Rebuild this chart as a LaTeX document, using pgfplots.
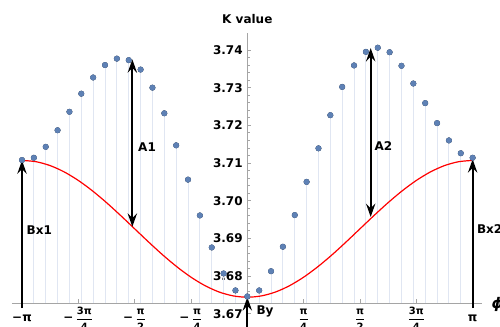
\documentclass[border=0pt]{standalone}
\usepackage{fontspec}
\setmainfont{DejaVu Sans}
\usepackage{amsmath}
\usepackage{pgfplots}
\usepackage{pgfplotstable}
\pgfplotsset{compat=1.18}
\usetikzlibrary{arrows.meta}
\definecolor{ptcol}{RGB}{94,129,181}
\definecolor{stemcol}{RGB}{224,230,242}
\definecolor{axcol}{RGB}{165,165,165}
\newcommand{\fr}[2]{$\dfrac{\text{\fontsize{7.5}{8}\selectfont\bfseries #1}}{\text{\fontsize{7.5}{8}\selectfont\bfseries #2}}$}

\pgfplotstableread{
x y
-3.1416 3.7108
-2.9762 3.7114
-2.8109 3.7143
-2.6455 3.7187
-2.4802 3.7236
-2.3149 3.7284
-2.1495 3.7327
-1.9842 3.7360
-1.8188 3.7377
-1.6535 3.7373
-1.4881 3.7348
-1.3228 3.7300
-1.1574 3.7232
-0.9921 3.7147
-0.8267 3.7056
-0.6614 3.6961
-0.4960 3.6876
-0.3307 3.6807
-0.1653 3.6762
0.0000 3.6746
0.1653 3.6762
0.3307 3.6813
0.4960 3.6878
0.6614 3.6962
0.8267 3.7050
0.9921 3.7139
1.1574 3.7227
1.3228 3.7302
1.4881 3.7359
1.6535 3.7395
1.8188 3.7406
1.9842 3.7394
2.1495 3.7358
2.3149 3.7311
2.4802 3.7259
2.6455 3.7206
2.8109 3.7160
2.9762 3.7126
3.1416 3.7114
}\pts

\pgfplotstableread{
x y
-3.1416 3.71070
-2.9452 3.71035
-2.7489 3.70932
-2.5525 3.70764
-2.3562 3.70538
-2.1598 3.70263
-1.9635 3.69950
-1.7671 3.69609
-1.5708 3.69255
-1.3744 3.68901
-1.1781 3.68560
-0.9817 3.68247
-0.7854 3.67972
-0.5890 3.67746
-0.3927 3.67578
-0.1963 3.67475
0.0000 3.67440
0.1963 3.67475
0.3927 3.67578
0.5890 3.67746
0.7854 3.67972
0.9817 3.68247
1.1781 3.68560
1.3744 3.68901
1.5708 3.69255
1.7671 3.69609
1.9635 3.69950
2.1598 3.70263
2.3562 3.70538
2.5525 3.70764
2.7489 3.70932
2.9452 3.71035
3.1416 3.71070
}\curve

\begin{document}
\begin{tikzpicture}
\begin{axis}[
  scale only axis, width=352.5pt, height=220.5pt,
  xmin=-3.2810, xmax=3.2720, ymin=3.6665, ymax=3.7445,
  axis x line=bottom, axis y line=middle,
  axis x line shift=-17.8pt,
  axis line style={-, draw=axcol, line width=0.6pt},
  clip=false,
  tick style={axcol, line width=0.6pt},
  tick align=inside,
  major tick length=3pt, minor tick length=1.8pt,
  ytick={3.67,3.68,3.69,3.70,3.71,3.72,3.73,3.74},
  minor y tick num=4,
  xtick={-3.14159,-2.35619,-1.5708,-0.785398,0.785398,1.5708,2.35619,3.14159},
  xticklabels={{−π},{−\,\fr{3π}{4}},{−\,\fr{π}{2}},{−\,\fr{π}{4}},{\fr{π}{4}},{\fr{π}{2}},{\fr{3π}{4}},{π}},
  xticklabel style={font=\bfseries\fontsize{9}{10}\selectfont, anchor=base, yshift=-14pt},
  yticklabel style={font=\bfseries\fontsize{9}{10}\selectfont},
  /pgf/number format/assume math mode=true,
  /pgf/number format/.cd, fixed, fixed zerofill, precision=2,
]
\addplot[only marks, mark=none, error bars/.cd, y dir=minus, y explicit, error mark=none,
  error bar style={stemcol, line width=0.7pt}]
  table[x=x, y=y, y error expr={\thisrow{y}-3.67283}] {\pts};
\addplot[red, line width=0.9pt, smooth] table[x=x,y=y] {\curve};
\addplot[only marks, mark=*, mark size=2.05pt, ptcol, mark options={draw=ptcol, fill=ptcol}] table[x=x,y=y] {\pts};
% arrows
\addplot[black, line width=1.5pt, -{Stealth[length=10pt,width=7pt,inset=3.5pt]}] coordinates {(-3.14159,3.6715) (-3.14159,3.7107)};
\addplot[black, line width=1.5pt, -{Stealth[length=10pt,width=7pt,inset=3.5pt]}] coordinates {(3.14159,3.6715) (3.14159,3.7110)};
\addplot[black, line width=1.5pt, {Stealth[length=10pt,width=7pt,inset=3.5pt]}-{Stealth[length=10pt,width=7pt,inset=3.5pt]}] coordinates {(-1.603,3.6931) (-1.603,3.7375)};
\addplot[black, line width=1.5pt, {Stealth[length=10pt,width=7pt,inset=3.5pt]}-{Stealth[length=10pt,width=7pt,inset=3.5pt]}] coordinates {(1.72,3.6957) (1.72,3.7405)};
\addplot[black, line width=1.5pt, -{Stealth[length=10pt,width=7pt,inset=3.5pt]}] coordinates {(0,3.6660) (0,3.6744)};
% labels
\node[font=\bfseries\fontsize{9}{10}\selectfont] at (axis cs:-1.398,3.7143) {A1};
\node[font=\bfseries\fontsize{9}{10}\selectfont] at (axis cs:1.899,3.7144) {A2};
\node[font=\bfseries\fontsize{9}{10}\selectfont] at (axis cs:-2.900,3.6922) {Bx1};
\node[font=\bfseries\fontsize{9}{10}\selectfont, anchor=west, inner sep=0pt] at (axis cs:3.199,3.6925) {Bx2};
\node[font=\bfseries\fontsize{9}{10}\selectfont] at (axis cs:0.247,3.6706) {By};
\node[font=\bfseries\fontsize{9}{10}\selectfont] at (axis cs:0,3.7481) {K value};
\node[font=\bfseries\itshape\fontsize{11}{12}\selectfont, anchor=west, inner sep=0pt] at (axis cs:3.404,3.6726) {ϕ};
\end{axis}
\pgfresetboundingbox
\path (-9pt,0pt) rectangle (366pt,245.25pt);
\end{tikzpicture}
\end{document}
